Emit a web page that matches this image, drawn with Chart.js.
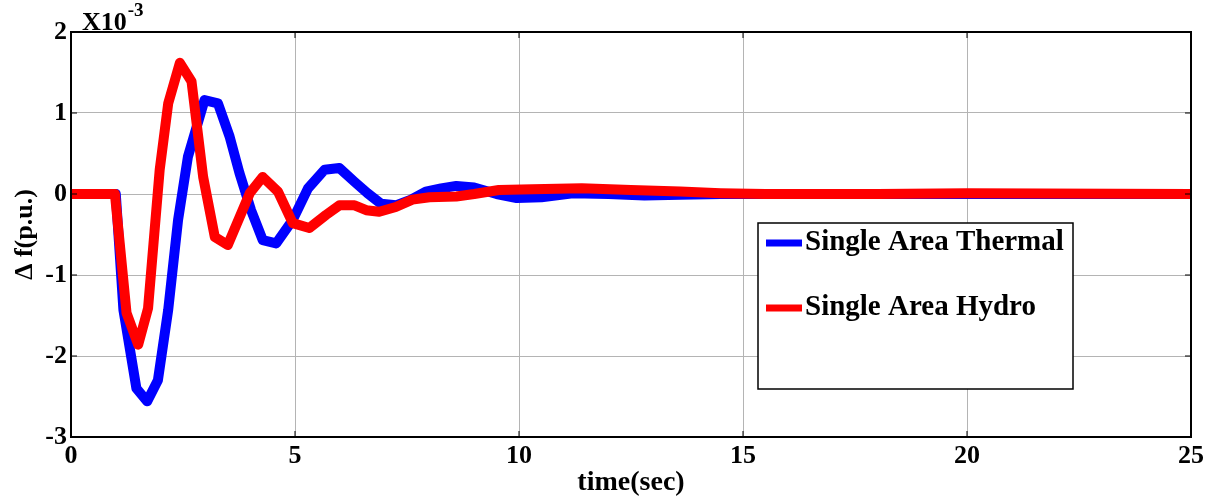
<!DOCTYPE html>
<html>
<head>
<meta charset="utf-8">
<script src="https://cdn.jsdelivr.net/npm/chart.js@4"></script>
<style>
  html, body { margin: 0; padding: 0; background: #fff; }
  #wrap { width: 1213px; height: 496px; }
</style>
</head>
<body>
<div id="wrap"><canvas id="chart" width="1213" height="496"></canvas></div>
<script>
// values are in units of 1e-3 p.u.
const thermalTime = [0, 1.0, 1.17, 1.46, 1.70, 1.94, 2.17, 2.39, 2.61, 2.98, 3.28, 3.54, 3.76, 4.02, 4.28, 4.58, 4.95, 5.29, 5.66, 5.99, 6.33, 6.62, 6.92, 7.25, 7.59, 7.92, 8.26, 8.6, 9.0, 9.5, 9.95, 10.5, 11.2, 12.0, 12.8, 13.6, 14.5, 16, 18, 20, 22, 25];
const thermalDf = [0, 0, -1.43, -2.40, -2.56, -2.30, -1.43, -0.32, 0.46, 1.16, 1.12, 0.71, 0.26, -0.20, -0.57, -0.61, -0.32, 0.07, 0.30, 0.32, 0.15, 0.01, -0.12, -0.14, -0.07, 0.03, 0.07, 0.10, 0.08, 0.0, -0.05, -0.04, 0.01, 0.0, -0.02, -0.01, 0, 0, 0, 0, 0, 0];

const hydroTime = [0, 0.98, 1.24, 1.5, 1.72, 1.98, 2.17, 2.43, 2.69, 2.95, 3.21, 3.50, 3.99, 4.28, 4.62, 4.95, 5.32, 5.69, 5.99, 6.33, 6.59, 6.88, 7.25, 7.62, 8.0, 8.6, 9.0, 9.55, 10.3, 11.4, 12.5, 13.6, 14.5, 15.5, 18, 20, 25];
const hydroDf = [0, 0, -1.47, -1.86, -1.41, 0.30, 1.12, 1.62, 1.39, 0.21, -0.53, -0.63, 0.01, 0.21, 0.03, -0.36, -0.42, -0.26, -0.14, -0.14, -0.20, -0.22, -0.16, -0.07, -0.04, -0.03, 0.0, 0.05, 0.06, 0.07, 0.05, 0.03, 0.01, 0, 0, 0.01, 0];

const xTicks = [0, 5, 10, 15, 20, 25];
const yTicks = [-3, -2, -1, 0, 1, 2];

const seriesNames = ["Single Area Thermal", "Single Area Hydro"];

const FONT = "'Liberation Serif', 'Times New Roman', serif";

const toPoints = (xs, ys) => xs.map((x, i) => ({ x: x, y: ys[i] }));

// box around the plot, inner tick marks, exponent text and the legend
const matlabLook = {
  id: "matlabLook",
  afterDraw(chart) {
    const { ctx, chartArea: a, scales } = chart;
    ctx.save();

    // inner tick marks
    ctx.strokeStyle = "#000";
    ctx.lineWidth = 1;
    xTicks.forEach(t => {
      const px = scales.x.getPixelForValue(t);
      ctx.beginPath();
      ctx.moveTo(px, a.bottom); ctx.lineTo(px, a.bottom - 6);
      ctx.moveTo(px, a.top); ctx.lineTo(px, a.top + 6);
      ctx.stroke();
    });
    yTicks.forEach(t => {
      const py = scales.y.getPixelForValue(t);
      ctx.beginPath();
      ctx.moveTo(a.left, py); ctx.lineTo(a.left + 6, py);
      ctx.moveTo(a.right, py); ctx.lineTo(a.right - 6, py);
      ctx.stroke();
    });

    // plot frame
    ctx.lineWidth = 2;
    ctx.strokeRect(a.left, a.top, a.right - a.left, a.bottom - a.top);

    // exponent label
    ctx.fillStyle = "#000";
    ctx.textBaseline = "alphabetic";
    ctx.textAlign = "left";
    ctx.font = "bold 26px " + FONT;
    ctx.fillText("X10", 82, 30);
    const w = ctx.measureText("X10").width;
    ctx.font = "bold 19px " + FONT;
    ctx.fillText("-3", 83 + w, 16);

    // legend box
    const lx = 758, ly = 223, lw = 315, lh = 166;
    ctx.fillStyle = "#fff";
    ctx.fillRect(lx, ly, lw, lh);
    ctx.lineWidth = 1.5;
    ctx.strokeStyle = "#000";
    ctx.strokeRect(lx, ly, lw, lh);

    const rows = [243, 308];
    chart.data.datasets.forEach(ds => {
      const y = rows[ds.legendRow];
      ctx.strokeStyle = ds.borderColor;
      ctx.lineWidth = 7;
      ctx.lineCap = "butt";
      ctx.beginPath();
      ctx.moveTo(766, y); ctx.lineTo(802, y);
      ctx.stroke();
      ctx.fillStyle = "#000";
      ctx.font = "bold 29px " + FONT;
      ctx.textBaseline = "middle";
      ctx.fillText(ds.label, 805, y);
    });

    ctx.restore();
  }
};

new Chart(document.getElementById("chart"), {
  type: "line",
  data: {
    datasets: [
      {
        label: seriesNames[0],
        legendRow: 0,
        data: toPoints(thermalTime, thermalDf),
        borderColor: "#0000ff",
        borderWidth: 10,
        pointRadius: 0,
        tension: 0,
        borderJoinStyle: "round",
        order: 2
      },
      {
        label: seriesNames[1],
        legendRow: 1,
        data: toPoints(hydroTime, hydroDf),
        borderColor: "#ff0000",
        borderWidth: 10,
        pointRadius: 0,
        tension: 0,
        borderJoinStyle: "round",
        order: 1
      }
    ]
  },
  options: {
    responsive: false,
    animation: false,
    layout: { padding: { top: 32, right: 22, left: 0, bottom: 0 } },
    plugins: {
      legend: { display: false },
      tooltip: { enabled: false }
    },
    scales: {
      x: {
        type: "linear",
        min: 0,
        max: 25,
        afterFit: s => { s.height = 59; },
        afterBuildTicks: s => { s.ticks = xTicks.map(v => ({ value: v })); },
        grid: { color: "#b4b4b4", lineWidth: 1, drawTicks: false },
        border: { display: false },
        ticks: {
          padding: 4,
          color: "#000",
          maxRotation: 0,
          font: { family: FONT, size: 26, weight: "bold" }
        },
        title: {
          display: true,
          text: "time(sec)",
          color: "#000",
          padding: { top: 0, bottom: -1 },
          font: { family: FONT, size: 28, weight: "bold", lineHeight: 1.0 }
        }
      },
      y: {
        type: "linear",
        min: -3,
        max: 2,
        afterFit: s => { s.width = 71; },
        afterBuildTicks: s => { s.ticks = yTicks.map(v => ({ value: v })); },
        grid: { color: "#b4b4b4", lineWidth: 1, drawTicks: false },
        border: { display: false },
        ticks: {
          padding: 4,
          color: "#000",
          font: { family: FONT, size: 26, weight: "bold" }
        },
        title: {
          display: true,
          text: "\u0394 f(p.u.)",
          color: "#000",
          padding: { top: 10, bottom: 0 },
          font: { family: FONT, size: 26, weight: "bold" }
        }
      }
    }
  },
  plugins: [matlabLook]
});
</script>
</body>
</html>
